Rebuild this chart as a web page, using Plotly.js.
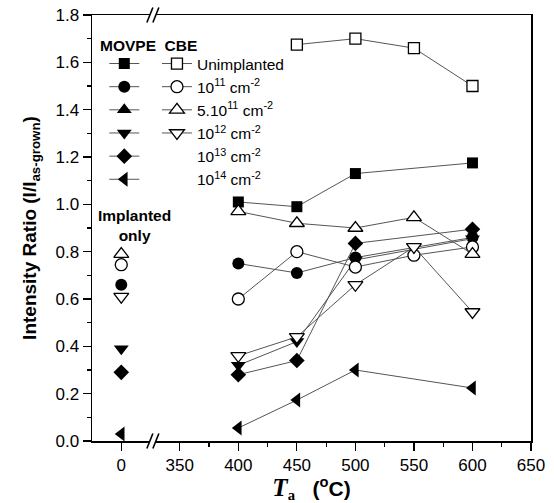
<!DOCTYPE html>
<html>
<head>
<meta charset="utf-8">
<script src="https://cdn.plot.ly/plotly-3.0.1.min.js"></script>
<style>html,body{margin:0;padding:0;background:#fff;}#chart{width:554px;height:503px;}</style>
</head>
<body>
<div id="chart"></div>
<script>
// ---- data ----
const annealT = [400, 450, 500, 550, 600];              // annealing temperatures (°C)
const tickTemps = [0, 350, 400, 450, 500, 550, 600, 650]; // axis tick labels
const zeroPos = 300;                                      // where "0" sits on the broken axis
const breakPos = 327;                                     // where the axis break marks sit

const seriesNames = ['Unimplanted', '10<sup>11</sup> cm<sup>-2</sup>', '5.10<sup>11</sup> cm<sup>-2</sup>',
                     '10<sup>12</sup> cm<sup>-2</sup>', '10<sup>13</sup> cm<sup>-2</sup>', '10<sup>14</sup> cm<sup>-2</sup>'];

// MOVPE (filled symbols), annealed
const movpeUnimpl = [1.01, 0.99, 1.13, null, 1.175];
const movpe1e11   = [0.75, 0.71, 0.775, null, 0.86];
const movpe5e11   = [null, null, null, null, null];
const movpe1e12   = [0.32, 0.42, 0.765, null, 0.855];
const movpe1e13   = [0.28, 0.34, 0.835, null, 0.895];
const movpe1e14   = [0.055, 0.173, 0.30, null, 0.224];
// MOVPE implanted only (T = 0)
const movpeImplOnly = [null, 0.66, null, 0.39, 0.29, 0.03];

// CBE (open symbols), annealed
const cbeUnimpl = [null, 1.675, 1.70, 1.66, 1.50];
const cbe1e11   = [0.60, 0.80, 0.735, 0.785, 0.82];
const cbe5e11   = [0.97, 0.92, 0.90, 0.945, 0.79];
const cbe1e12   = [0.36, 0.44, 0.66, 0.82, 0.545];
// CBE implanted only (T = 0)
const cbeImplOnly = [null, 0.745, 0.79, 0.61];

// ---- styles ----
const movpeSym = ['square', 'circle', 'triangle-up', 'triangle-down', 'diamond', 'triangle-left'];
const movpeSize = [11, 12, 13, 13, 12, 13];
const cbeSym = ['square', 'circle', 'triangle-up', 'triangle-down'];
const cbeSize = [11, 12, 13, 13];
const lineCol = '#555555';

const movpeData = [movpeUnimpl, movpe1e11, movpe5e11, movpe1e12, movpe1e13, movpe1e14];
const cbeData = [cbeUnimpl, cbe1e11, cbe5e11, cbe1e12];

const traces = [];
movpeData.forEach((ys, i) => {
  traces.push({
    type: 'scatter', mode: 'lines+markers', x: annealT, y: ys, connectgaps: true,
    name: ' ', legend: 'legend',
    line: {color: lineCol, width: 1},
    marker: {symbol: movpeSym[i], size: movpeSize[i], color: 'black', line: {width: 0}},
    hoverinfo: 'x+y'
  });
});
cbeData.forEach((ys, i) => {
  traces.push({
    type: 'scatter', mode: 'lines+markers', x: annealT, y: ys, connectgaps: true,
    name: seriesNames[i], legend: 'legend2',
    line: {color: lineCol, width: 1},
    marker: {symbol: cbeSym[i], size: cbeSize[i], color: 'white', line: {color: 'black', width: 1.3}},
    hoverinfo: 'x+y'
  });
});
// label-only legend rows (no CBE data for these doses)
[4, 5].forEach(i => {
  traces.push({
    type: 'scatter', mode: 'markers', x: [null], y: [null], name: seriesNames[i], legend: 'legend2',
    marker: {color: 'rgba(0,0,0,0)', size: 1}, hoverinfo: 'skip'
  });
});
// implanted-only points at T = 0
movpeImplOnly.forEach((v, i) => {
  if (v === null) return;
  traces.push({
    type: 'scatter', mode: 'markers', x: [zeroPos], y: [v], showlegend: false,
    marker: {symbol: movpeSym[i], size: movpeSize[i], color: 'black', line: {width: 0}}
  });
});
cbeImplOnly.forEach((v, i) => {
  if (v === null) return;
  traces.push({
    type: 'scatter', mode: 'markers', x: [zeroPos], y: [v], showlegend: false,
    marker: {symbol: cbeSym[i], size: cbeSize[i], color: 'white', line: {color: 'black', width: 1.3}}
  });
});

const font = 'Arial, "Liberation Sans", sans-serif';
const legendCommon = {
  bgcolor: 'rgba(0,0,0,0)', borderwidth: 0, traceorder: 'normal', itemwidth: 30,
  font: {family: font, size: 15.5, color: 'black'}, xanchor: 'left', yanchor: 'top',
  tracegroupgap: 0
};

// break marks: two slashes on each horizontal border with a gap in the line
const ux = 375 / 439;   // x data units per pixel
const uy = 1 / 426;     // paper units per pixel
const breakShapes = [];
[0, 1].forEach(yb => {
  breakShapes.push({type: 'rect', xref: 'x', yref: 'paper', layer: 'above',
    x0: breakPos - 3 * ux, x1: breakPos + 3 * ux, y0: yb - 3 * uy, y1: yb + 3 * uy,
    fillcolor: 'white', line: {width: 0}});
  [-1, 1].forEach(s => {
    const cx = breakPos + s * 3 * ux;
    breakShapes.push({type: 'line', xref: 'x', yref: 'paper', layer: 'above',
      x0: cx - 3 * ux, x1: cx + 3 * ux, y0: yb - 7.5 * uy, y1: yb + 7.5 * uy,
      line: {color: 'black', width: 1.6}});
  });
});

const layout = {
  width: 554, height: 503,
  margin: {l: 92, r: 23, t: 15, b: 62},
  paper_bgcolor: 'white', plot_bgcolor: 'white',
  font: {family: font, color: 'black'},
  showlegend: true,
  legend: Object.assign({}, legendCommon, {x: 0.028, y: 0.925}),
  legend2: Object.assign({}, legendCommon, {x: 0.148, y: 0.925}),
  xaxis: {
    range: [275, 650],
    tickmode: 'array',
    tickvals: tickTemps.map(t => t === 0 ? zeroPos : t),
    ticktext: tickTemps.map(String),
    ticks: 'outside', ticklen: 8, tickwidth: 1.2, tickcolor: 'black',
    minor: {tickmode: 'array', tickvals: [375, 425, 475, 525, 575, 625], ticks: 'outside', ticklen: 4, tickcolor: 'black', tickwidth: 1.2},
    showline: true, linecolor: 'black', linewidth: 1.5, mirror: true,
    showgrid: false, zeroline: false,
    tickfont: {family: font, size: 17, color: 'black'},
    title: {
      text: '<span style="font-family:\'Liberation Serif\', \'Times New Roman\', serif;"><b><i><span style="font-size:25px;">T</span></i></b><sub><b>a</b></sub></span>   <b>(<sup>o</sup>C)</b>',
      font: {family: font, size: 21, color: 'black'},
      standoff: 4
    }
  },
  yaxis: {
    range: [0, 1.8],
    tickmode: 'linear', tick0: 0, dtick: 0.2, tickformat: '.1f',
    ticks: 'outside', ticklen: 8, tickwidth: 1.2, tickcolor: 'black',
    minor: {dtick: 0.1, ticks: 'outside', ticklen: 4, tickcolor: 'black', tickwidth: 1.2},
    showline: true, linecolor: 'black', linewidth: 1.5, mirror: true,
    showgrid: false, zeroline: false,
    tickfont: {family: font, size: 17, color: 'black'},
    title: {
      text: '<b>Intensity Ratio (I/I<sub>as-grown</sub>)</b>',
      font: {family: font, size: 19, color: 'black'},
      standoff: 14
    }
  },
  shapes: breakShapes,
  annotations: [
    {xref: 'paper', yref: 'paper', x: 0.014, y: (441 - 45) / 426, xanchor: 'left', yanchor: 'middle',
     text: '<b>MOVPE  CBE</b>', showarrow: false, font: {family: font, size: 15.5, color: 'black'}},
    {xref: 'paper', yref: 'paper', x: (134 - 92) / 439, y: (441 - 225) / 426, xanchor: 'center', yanchor: 'middle',
     text: '<b>Implanted<br>only</b>', showarrow: false, align: 'center', font: {family: font, size: 15.5, color: 'black'}}
  ]
};

Plotly.newPlot('chart', traces, layout, {displayModeBar: false, staticPlot: true});
</script>
</body>
</html>
